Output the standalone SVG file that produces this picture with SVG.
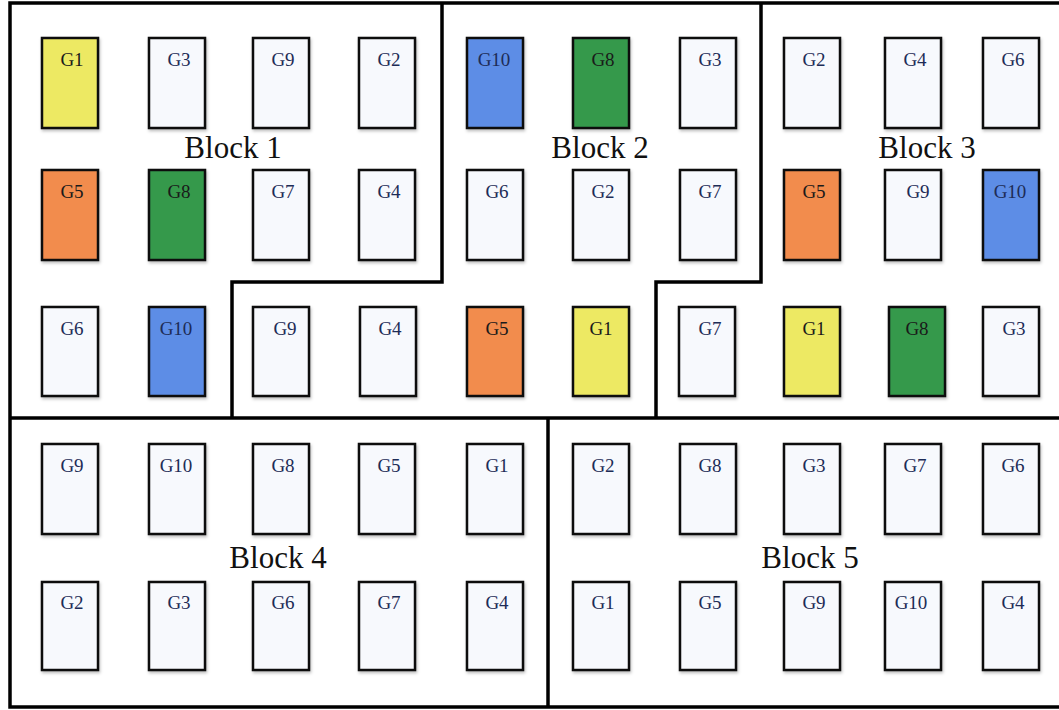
<svg xmlns="http://www.w3.org/2000/svg" width="1059" height="710" viewBox="0 0 1059 710">
<style>
.b{stroke:#111;stroke-width:2.5;filter:url(#sh)}
.w{fill:#f7f9fd}.y{fill:#ede964}.o{fill:#f28c4e}.g{fill:#35994b}.u{fill:#5d8de6}
.t{font-family:"Liberation Serif",serif;font-size:19px;text-anchor:middle;fill:#1d2c57}
.tk{fill:#1a1a1a}
.lbl{font-family:"Liberation Serif",serif;font-size:31px;text-anchor:middle;fill:#111}
.ln{fill:none;stroke:#000;stroke-width:3.5;stroke-linejoin:miter}
</style>
<defs>
<filter id="sh" x="-20%" y="-20%" width="150%" height="150%"><feDropShadow dx="1" dy="2" stdDeviation="1.5" flood-color="#000" flood-opacity="0.25"/></filter>
</defs>
<rect width="1059" height="710" fill="#fff"/>
<g id="boundaries">
<path class="ln" d="M1059 3 H10 V707 H1059"/>
<path class="ln" d="M442 3 V282 H232 V418"/>
<path class="ln" d="M761 3 V282 H656 V418"/>
<path class="ln" d="M10 418 H1059"/>
<path class="ln" d="M548 418 V707"/>
</g>
<g id="labels">
<text class="lbl" x="233" y="158">Block 1</text>
<text class="lbl" x="600" y="158">Block 2</text>
<text class="lbl" x="927" y="158">Block 3</text>
<text class="lbl" x="278" y="568">Block 4</text>
<text class="lbl" x="810" y="568">Block 5</text>
</g>
<g id="r1">
<g id="n1-1"><rect class="b y" x="42" y="38" width="56" height="90"/><text class="t tk" x="72" y="66">G1</text></g>
<g id="n1-2"><rect class="b w" x="149" y="38" width="56" height="90"/><text class="t" x="179" y="66">G3</text></g>
<g id="n1-3"><rect class="b w" x="253" y="38" width="56" height="90"/><text class="t" x="283" y="66">G9</text></g>
<g id="n1-4"><rect class="b w" x="359" y="38" width="56" height="90"/><text class="t" x="389" y="66">G2</text></g>
<g id="n1-5"><rect class="b u" x="467" y="38" width="56" height="90"/><text class="t" x="494" y="66">G10</text></g>
<g id="n1-6"><rect class="b g" x="573" y="38" width="56" height="90"/><text class="t tk" x="603" y="66">G8</text></g>
<g id="n1-7"><rect class="b w" x="680" y="38" width="56" height="90"/><text class="t" x="710" y="66">G3</text></g>
<g id="n1-8"><rect class="b w" x="784" y="38" width="56" height="90"/><text class="t" x="814" y="66">G2</text></g>
<g id="n1-9"><rect class="b w" x="885" y="38" width="56" height="90"/><text class="t" x="915" y="66">G4</text></g>
<g id="n1-10"><rect class="b w" x="983" y="38" width="56" height="90"/><text class="t" x="1013" y="66">G6</text></g>
</g>
<g id="r2">
<g id="n2-1"><rect class="b o" x="42" y="170" width="56" height="90"/><text class="t tk" x="72" y="198">G5</text></g>
<g id="n2-2"><rect class="b g" x="149" y="170" width="56" height="90"/><text class="t tk" x="179" y="198">G8</text></g>
<g id="n2-3"><rect class="b w" x="253" y="170" width="56" height="90"/><text class="t" x="283" y="198">G7</text></g>
<g id="n2-4"><rect class="b w" x="359" y="170" width="56" height="90"/><text class="t" x="389" y="198">G4</text></g>
<g id="n2-5"><rect class="b w" x="467" y="170" width="56" height="90"/><text class="t" x="497" y="198">G6</text></g>
<g id="n2-6"><rect class="b w" x="573" y="170" width="56" height="90"/><text class="t" x="603" y="198">G2</text></g>
<g id="n2-7"><rect class="b w" x="680" y="170" width="56" height="90"/><text class="t" x="710" y="198">G7</text></g>
<g id="n2-8"><rect class="b o" x="784" y="170" width="56" height="90"/><text class="t tk" x="814" y="198">G5</text></g>
<g id="n2-9"><rect class="b w" x="885" y="170" width="56" height="90"/><text class="t" x="918" y="198">G9</text></g>
<g id="n2-10"><rect class="b u" x="983" y="170" width="56" height="90"/><text class="t" x="1010" y="198">G10</text></g>
</g>
<g id="r3">
<g id="n3-1"><rect class="b w" x="42" y="307" width="56" height="89"/><text class="t" x="72" y="335">G6</text></g>
<g id="n3-2"><rect class="b u" x="149" y="307" width="56" height="89"/><text class="t" x="176" y="335">G10</text></g>
<g id="n3-3"><rect class="b w" x="253" y="307" width="56" height="89"/><text class="t" x="285" y="335">G9</text></g>
<g id="n3-4"><rect class="b w" x="360" y="307" width="56" height="89"/><text class="t" x="390" y="335">G4</text></g>
<g id="n3-5"><rect class="b o" x="467" y="307" width="56" height="89"/><text class="t tk" x="497" y="335">G5</text></g>
<g id="n3-6"><rect class="b y" x="573" y="307" width="56" height="89"/><text class="t tk" x="601" y="335">G1</text></g>
<g id="n3-7"><rect class="b w" x="679" y="307" width="56" height="89"/><text class="t" x="710" y="335">G7</text></g>
<g id="n3-8"><rect class="b y" x="784" y="307" width="56" height="89"/><text class="t tk" x="814" y="335">G1</text></g>
<g id="n3-9"><rect class="b g" x="889" y="307" width="56" height="89"/><text class="t tk" x="917" y="335">G8</text></g>
<g id="n3-10"><rect class="b w" x="983" y="307" width="56" height="89"/><text class="t" x="1014" y="335">G3</text></g>
</g>
<g id="r4">
<g id="n4-1"><rect class="b w" x="42" y="444" width="56" height="90"/><text class="t" x="72" y="472">G9</text></g>
<g id="n4-2"><rect class="b w" x="149" y="444" width="56" height="90"/><text class="t" x="176" y="472">G10</text></g>
<g id="n4-3"><rect class="b w" x="253" y="444" width="56" height="90"/><text class="t" x="283" y="472">G8</text></g>
<g id="n4-4"><rect class="b w" x="359" y="444" width="56" height="90"/><text class="t" x="389" y="472">G5</text></g>
<g id="n4-5"><rect class="b w" x="467" y="444" width="56" height="90"/><text class="t" x="497" y="472">G1</text></g>
<g id="n4-6"><rect class="b w" x="573" y="444" width="56" height="90"/><text class="t" x="603" y="472">G2</text></g>
<g id="n4-7"><rect class="b w" x="680" y="444" width="56" height="90"/><text class="t" x="710" y="472">G8</text></g>
<g id="n4-8"><rect class="b w" x="784" y="444" width="56" height="90"/><text class="t" x="814" y="472">G3</text></g>
<g id="n4-9"><rect class="b w" x="885" y="444" width="56" height="90"/><text class="t" x="915" y="472">G7</text></g>
<g id="n4-10"><rect class="b w" x="983" y="444" width="56" height="90"/><text class="t" x="1013" y="472">G6</text></g>
</g>
<g id="r5">
<g id="n5-1"><rect class="b w" x="42" y="582" width="56" height="88"/><text class="t" x="72" y="609">G2</text></g>
<g id="n5-2"><rect class="b w" x="149" y="582" width="56" height="88"/><text class="t" x="179" y="609">G3</text></g>
<g id="n5-3"><rect class="b w" x="253" y="582" width="56" height="88"/><text class="t" x="283" y="609">G6</text></g>
<g id="n5-4"><rect class="b w" x="359" y="582" width="56" height="88"/><text class="t" x="389" y="609">G7</text></g>
<g id="n5-5"><rect class="b w" x="467" y="582" width="56" height="88"/><text class="t" x="497" y="609">G4</text></g>
<g id="n5-6"><rect class="b w" x="573" y="582" width="56" height="88"/><text class="t" x="603" y="609">G1</text></g>
<g id="n5-7"><rect class="b w" x="680" y="582" width="56" height="88"/><text class="t" x="710" y="609">G5</text></g>
<g id="n5-8"><rect class="b w" x="784" y="582" width="56" height="88"/><text class="t" x="814" y="609">G9</text></g>
<g id="n5-9"><rect class="b w" x="885" y="582" width="56" height="88"/><text class="t" x="911" y="609">G10</text></g>
<g id="n5-10"><rect class="b w" x="983" y="582" width="56" height="88"/><text class="t" x="1013" y="609">G4</text></g>
</g>
</svg>
